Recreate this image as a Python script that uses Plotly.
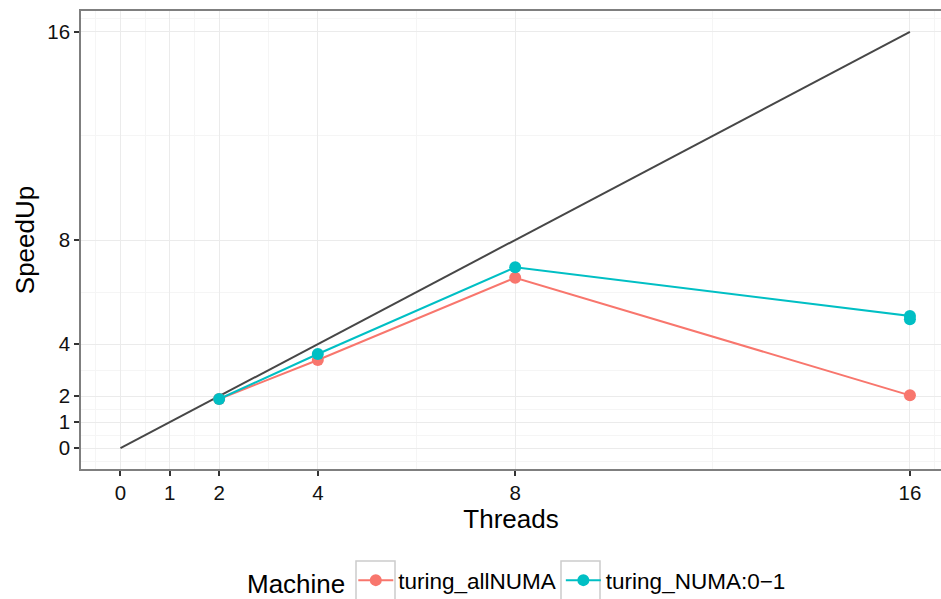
import plotly.graph_objects as go

# ---- data ----
ideal_x = [0, 16]
ideal_y = [0, 16]

threads_all = [2, 4, 8, 16]
speedup_all = [1.89, 3.39, 6.55, 2.03]

threads_numa = [2, 4, 8, 16, 16]
speedup_numa = [1.89, 3.62, 6.95, 5.08, 4.95]

series_names = ["turing_allNUMA", "turing_NUMA:0\u22121"]
series_colors = ["#F8766D", "#00BFC4"]

tick_vals = [0, 1, 2, 4, 8, 16]
tick_text = ["0", "1", "2", "4", "8", "16"]
minor_vals = [-0.5, 0.5, 1.5, 3, 6, 12, 16.5]

FONT = "Liberation Sans, Arial, sans-serif"

W, H = 941, 599
ML, MT, MB = 81, 11, 130
PW, PH = W - ML, H - MT - MB


def px_x(p):
    return (p - ML) / PW


def px_y(p):
    return (H - MB - p) / PH


fig = go.Figure()

fig.add_trace(go.Scatter(
    x=ideal_x, y=ideal_y, mode="lines",
    line=dict(color="#474747", width=2),
    showlegend=False, hoverinfo="skip"))

fig.add_trace(go.Scatter(
    x=threads_all, y=speedup_all, mode="lines+markers",
    name=series_names[0],
    line=dict(color=series_colors[0], width=2),
    marker=dict(color=series_colors[0], size=12)))

fig.add_trace(go.Scatter(
    x=threads_numa, y=speedup_numa, mode="lines+markers",
    name=series_names[1],
    line=dict(color=series_colors[1], width=2),
    marker=dict(color=series_colors[1], size=12)))

axis_common = dict(
    tickmode="array", tickvals=tick_vals, ticktext=tick_text,
    showgrid=True, gridcolor="#EBEBEB", gridwidth=1.2,
    zeroline=False, automargin=False,
    ticks="outside", ticklen=5, tickwidth=1.5, tickcolor="#333333",
    tickfont=dict(size=20.5, color="#111111", family=FONT),
    showline=True, linecolor="#7F7F7F", linewidth=1.5,
    minor=dict(tickmode="array", tickvals=minor_vals, showgrid=True,
               gridcolor="#F5F5F5", gridwidth=0.7, ticks=""),
)

fig.update_xaxes(range=[-0.8, 16.63], mirror=True,
                 title=dict(text="Threads", font=dict(size=26, color="#000", family=FONT), standoff=3),
                 **axis_common)
fig.update_yaxes(range=[-0.8, 16.8], mirror=False,
                 title=dict(text="SpeedUp", font=dict(size=26, color="#000", family=FONT), standoff=5),
                 **axis_common)

# legend key frames (ggplot theme_bw style)
for x0 in (356, 561):
    fig.add_shape(type="rect", xref="paper", yref="paper",
                  x0=px_x(x0), x1=px_x(x0 + 39), y0=px_y(561), y1=px_y(602),
                  line=dict(color="#CCCCCC", width=1.5), fillcolor="rgba(0,0,0,0)",
                  layer="below")

fig.update_layout(
    width=W, height=H,
    margin=dict(l=ML, r=0, t=MT, b=MB, autoexpand=False),
    plot_bgcolor="white", paper_bgcolor="white",
    font=dict(family=FONT, color="#000"),
    legend=dict(orientation="h", x=px_x(245), xanchor="left", y=px_y(581), yanchor="middle",
                title=dict(text="Machine", font=dict(size=26, family=FONT)),
                font=dict(size=22.5, family=FONT), itemwidth=35,
                bgcolor="rgba(0,0,0,0)"),
)

fig.write_html("out.html", config={"displayModeBar": False},
               post_script="document.body.style.margin='0';document.body.style.overflow='hidden';")
